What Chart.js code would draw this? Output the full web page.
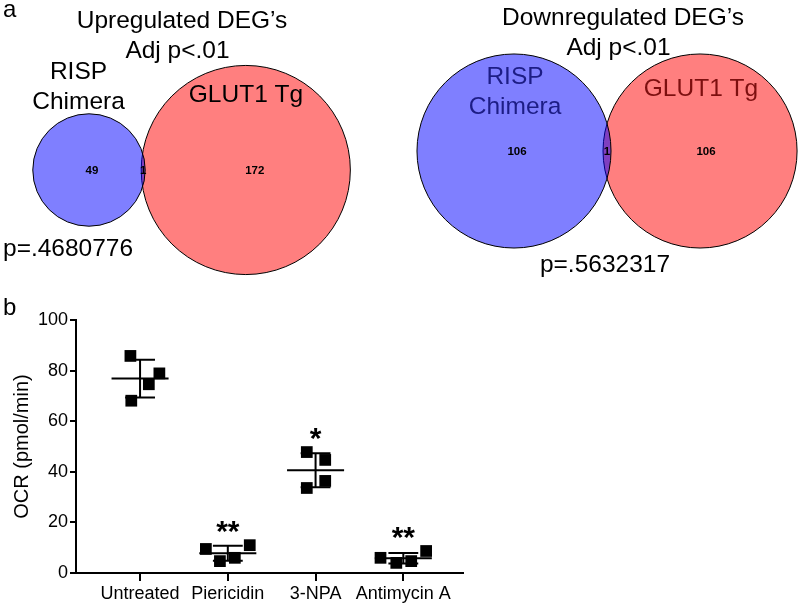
<!DOCTYPE html>
<html>
<head>
<meta charset="utf-8">
<script src="https://cdn.jsdelivr.net/npm/chart.js@4.4.0/dist/chart.umd.min.js"></script>
<style>
  html, body { margin: 0; padding: 0; background: #fff; }
  #wrap { position: relative; width: 800px; height: 607px; }
  #vennCanvas { position: absolute; left: 0; top: 0; }
  #ocrCanvas { position: absolute; left: 0; top: 290px; }
</style>
</head>
<body>
<div id="wrap">
  <canvas id="vennCanvas" width="800" height="290"></canvas>
  <canvas id="ocrCanvas" width="800" height="317"></canvas>
</div>
<script>
// 韋恩圖資料 (DEG 數量: 僅 RISP, 交集, 僅 GLUT1)
const setNames = [['RISP', 'Chimera'], ['GLUT1 Tg']];
const upTitle = ['Upregulated DEG’s', 'Adj p<.01'];
const upCounts = [49, 1, 172];
const upP = 'p=.4680776';
const downTitle = ['Downregulated DEG’s', 'Adj p<.01'];
const downCounts = [106, 1, 106];
const downP = 'p=.5632317';

// OCR 資料 (pmol/min)
const groups = ['Untreated', 'Piericidin', '3-NPA', 'Antimycin A'];
const untreated = [85.8, 78.9, 74.6, 68.1];
const piericidin = [9.5, 4.7, 6.0, 11.0];
const npa = [47.8, 44.7, 36.4, 33.6];
const antimycin = [6.0, 4.0, 4.7, 8.7];
const sigMarks = ['', '**', '*', '**'];
const yTicks = [0, 20, 40, 60, 80, 100];

Chart.defaults.font.family = "'Liberation Sans', Arial, sans-serif";
Chart.defaults.color = '#000';

const FONT = "'Liberation Sans', Arial, sans-serif";
const BLUE = 'rgba(0,0,255,0.5)';
const RED = 'rgba(255,0,0,0.5)';

// 版面設定 (圓心、比例、交集寬度)
const upLayout = { cx: 89, cy: 170, k: 7.95, lens: 4, off1: 3, off2: 9 };
const downLayout = { cx: 514, cy: 151, k: 9.38, lens: 8, off1: 3, off2: 6 };

function vennGeom(counts, L) {
  const r1 = L.k * Math.sqrt(counts[0] + counts[1]);
  const r2 = L.k * Math.sqrt(counts[2] + counts[1]);
  const cx2 = L.cx + r1 + r2 - L.lens;
  return { r1, r2, cx1: L.cx, cx2, cy: L.cy, L };
}

const upG = vennGeom(upCounts, upLayout);
const downG = vennGeom(downCounts, downLayout);

function drawText(ctx, str, x, y, font, color, align, sx) {
  ctx.save();
  ctx.translate(x, y);
  ctx.scale(sx || 1, 1);
  ctx.font = font;
  ctx.fillStyle = color || '#000';
  ctx.textAlign = align || 'center';
  ctx.textBaseline = 'alphabetic';
  ctx.fillText(str, 0, 0);
  ctx.restore();
}

/**
 * 韋恩圖文字 (標題、集合名稱、數量、p 值)
 */
const vennTextPlugin = {
  id: 'vennText',
  afterDatasetsDraw(chart) {
    const ctx = chart.ctx;
    const xs = chart.scales.x, ys = chart.scales.y;
    const px = v => xs.getPixelForValue(v);
    const py = v => ys.getPixelForValue(v);
    const big = `24.5px ${FONT}`;

    drawText(ctx, 'a', px(3), py(17), `24px ${FONT}`, '#000', 'left');

    // 上調
    drawText(ctx, upTitle[0], px(182), py(28), big);
    drawText(ctx, upTitle[1], px(177.5), py(58), big);
    drawText(ctx, setNames[0][0], px(78.5), py(79), big);
    drawText(ctx, setNames[0][1], px(78.5), py(109), big);
    drawText(ctx, setNames[1][0], px(246), py(102), big);
    drawText(ctx, upP, px(3), py(256), big, '#000', 'left');

    // 下調
    drawText(ctx, downTitle[0], px(623), py(25), big);
    drawText(ctx, downTitle[1], px(618.5), py(55), big);
    drawText(ctx, setNames[0][0], px(515), py(84), big, '#1d1d85');
    drawText(ctx, setNames[0][1], px(515), py(114), big, '#1d1d85');
    drawText(ctx, setNames[1][0], px(701), py(96), big, '#7d0f0f');
    drawText(ctx, downP, px(605), py(272), big);

    // 各區數量
    [[upG, upCounts], [downG, downCounts]].forEach(([g, counts]) => {
      const lensX = ((g.cx1 + g.r1) + (g.cx2 - g.r2)) / 2;
      const pos = [g.cx1 + g.L.off1, lensX, g.cx2 + g.L.off2];
      ctx.save();
      ctx.font = `bold 11.5px ${FONT}`;
      ctx.fillStyle = '#000';
      ctx.textAlign = 'center';
      ctx.textBaseline = 'middle';
      counts.forEach((c, i) => ctx.fillText(String(c), px(pos[i]), py(g.cy + 1)));
      ctx.restore();
    });
  }
};

new Chart(document.getElementById('vennCanvas'), {
  type: 'bubble',
  data: {
    datasets: [
      {
        label: 'RISP Chimera',
        data: [upG, downG].map(g => ({ x: g.cx1, y: g.cy, r: g.r1 })),
        backgroundColor: BLUE,
        borderColor: '#000',
        borderWidth: 1,
        clip: false
      },
      {
        label: 'GLUT1 Tg',
        data: [upG, downG].map(g => ({ x: g.cx2, y: g.cy, r: g.r2 })),
        backgroundColor: RED,
        borderColor: '#000',
        borderWidth: 1,
        clip: false
      }
    ]
  },
  options: {
    responsive: false,
    animation: false,
    events: [],
    layout: { padding: 0, autoPadding: false },
    plugins: { legend: { display: false }, tooltip: { enabled: false } },
    scales: {
      x: { type: 'linear', min: 0, max: 800, display: false },
      y: { type: 'linear', min: 0, max: 290, reverse: true, display: false }
    }
  },
  plugins: [vennTextPlugin]
});

// 散點抖動 (類別單位)
const series = [untreated, piericidin, npa, antimycin];
const jitter = [
  [-0.11, 0.22, 0.10, -0.10],
  [-0.25, -0.09, 0.08, 0.25],
  [-0.10, 0.11, 0.11, -0.10],
  [-0.26, -0.08, 0.09, 0.26]
];

function meanSD(vals) {
  const m = vals.reduce((a, b) => a + b, 0) / vals.length;
  const v = vals.reduce((a, b) => a + (b - m) * (b - m), 0) / (vals.length - 1);
  return { m, sd: Math.sqrt(v) };
}

/**
 * 平均值 ± SD 線與顯著性星號
 */
const errorBarPlugin = {
  id: 'errorBars',
  beforeDatasetsDraw(chart) {
    const ctx = chart.ctx;
    const xs = chart.scales.x, ys = chart.scales.y;
    ctx.save();
    ctx.strokeStyle = '#000';
    ctx.lineWidth = 2;
    series.forEach((vals, g) => {
      const { m, sd } = meanSD(vals);
      const yM = ys.getPixelForValue(m);
      const yHi = ys.getPixelForValue(m + sd);
      const yLo = ys.getPixelForValue(m - sd);
      const x = xs.getPixelForValue(g);
      ctx.beginPath();
      ctx.moveTo(xs.getPixelForValue(g - 0.325), yM);
      ctx.lineTo(xs.getPixelForValue(g + 0.325), yM);
      ctx.moveTo(x, yHi);
      ctx.lineTo(x, yLo);
      ctx.moveTo(xs.getPixelForValue(g - 0.17), yHi);
      ctx.lineTo(xs.getPixelForValue(g + 0.17), yHi);
      ctx.moveTo(xs.getPixelForValue(g - 0.17), yLo);
      ctx.lineTo(xs.getPixelForValue(g + 0.17), yLo);
      ctx.stroke();
    });
    ctx.restore();
  },
  afterDatasetsDraw(chart) {
    const ctx = chart.ctx;
    const xs = chart.scales.x, ys = chart.scales.y;
    ctx.save();
    ctx.font = `bold 30px ${FONT}`;
    ctx.fillStyle = '#000';
    ctx.textAlign = 'center';
    ctx.textBaseline = 'alphabetic';
    sigMarks.forEach((s, g) => {
      if (!s) return;
      const top = ys.getPixelForValue(Math.max(...series[g]));
      ctx.fillText(s, xs.getPixelForValue(g), top - 4);
    });
    ctx.restore();
    drawText(ctx, 'b', 3, 25, `24px ${FONT}`, '#000', 'left');
  }
};

new Chart(document.getElementById('ocrCanvas'), {
  type: 'scatter',
  data: {
    datasets: [{
      label: 'OCR',
      data: series.flatMap((vals, g) => vals.map((v, j) => ({ x: g + jitter[g][j], y: v }))),
      pointStyle: 'rect',
      pointRadius: 8.3,
      backgroundColor: '#000',
      borderWidth: 0
    }]
  },
  options: {
    responsive: false,
    animation: false,
    events: [],
    layout: { padding: { left: 0, top: 30, right: 337, bottom: 0 } },
    plugins: { legend: { display: false }, tooltip: { enabled: false } },
    scales: {
      x: {
        type: 'linear',
        min: -0.73,
        max: 3.68,
        afterBuildTicks: s => { s.ticks = groups.map((g, i) => ({ value: i })); },
        ticks: { callback: (v, i) => groups[i], font: { size: 18 }, padding: 2, maxRotation: 0, autoSkip: false },
        grid: { drawOnChartArea: false, tickLength: 8, color: '#000', lineWidth: 2 },
        border: { color: '#000', width: 2 },
        afterFit: s => { s.height = 34; }
      },
      y: {
        min: 0,
        max: 100,
        afterBuildTicks: s => { s.ticks = yTicks.map(v => ({ value: v })); },
        ticks: { font: { size: 18 }, padding: 2 },
        grid: { drawOnChartArea: false, tickLength: 6, color: '#000', lineWidth: 2 },
        border: { color: '#000', width: 2 },
        title: { display: true, text: 'OCR (pmol/min)', font: { size: 20 }, padding: { top: 10, bottom: 0 } },
        afterFit: s => { s.width = 76; }
      }
    }
  },
  plugins: [errorBarPlugin]
});
</script>
</body>
</html>
